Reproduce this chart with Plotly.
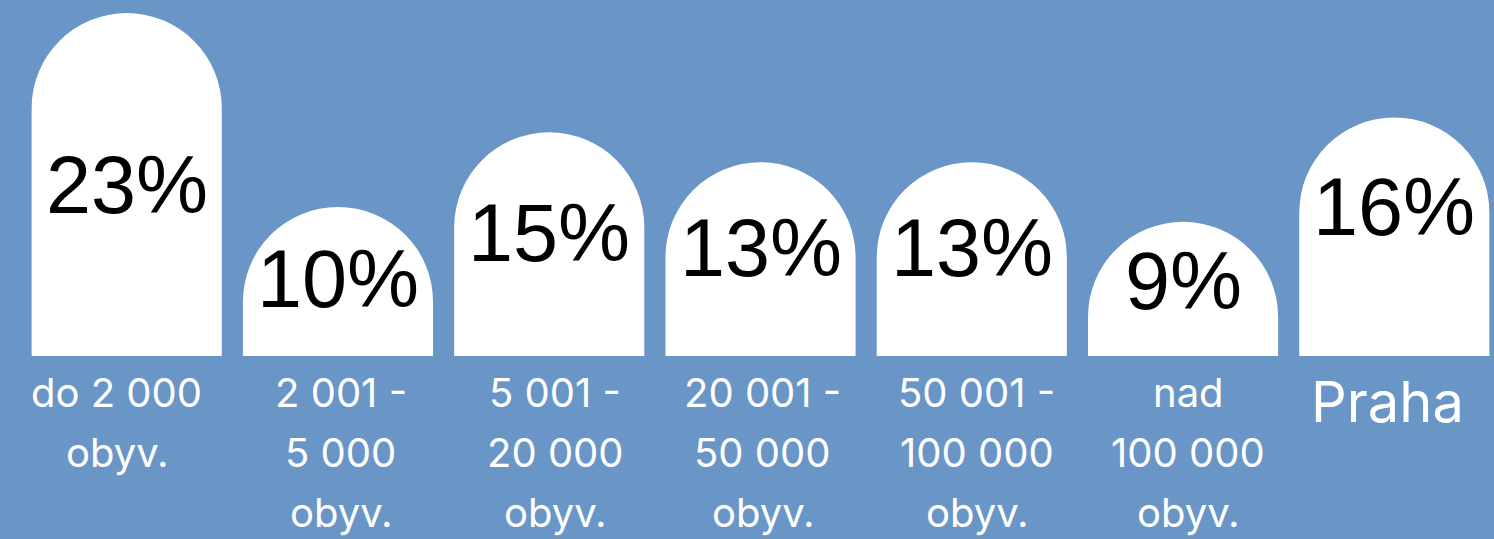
import plotly.graph_objects as go

# ---- data ----
categories = [
    "do 2 000 obyv.",
    "2 001 - 5 000 obyv.",
    "5 001 - 20 000 obyv.",
    "20 001 - 50 000 obyv.",
    "50 001 - 100 000 obyv.",
    "nad 100 000 obyv.",
    "Praha",
]
values = [23, 10, 15, 13, 13, 9, 16]
label_lines = [
    ["do 2 000", "obyv."],
    ["2 001 -", "5 000", "obyv."],
    ["5 001 -", "20 000", "obyv."],
    ["20 001 -", "50 000", "obyv."],
    ["50 001 -", "100 000", "obyv."],
    ["nad", "100 000", "obyv."],
    ["Praha"],
]

# ---- style ----
BG = "#6996C6"
W, H = 1494, 539
PLOT_BOTTOM = 356          # px from top where bars sit
PX_PER_UNIT = 14.91
pct_shift = [0, 2, 11, 11, 11, 8, 30]      # px nudges of the % labels (upwards)
label_xshift = [-10, 3, 6, 2, 5, 5, -7]    # px nudges of the category labels
label_font = "Inter, Liberation Sans, Arial, sans-serif"
pct_font = "Liberation Sans, Arial, Helvetica, sans-serif"

fig = go.Figure()
fig.add_trace(go.Bar(
    x=categories,
    y=values,
    width=0.9,
    marker=dict(color="white", line=dict(width=0), cornerradius="50%"),
    hoverinfo="skip",
))

annotations = []
for cat, v, s in zip(categories, values, pct_shift):
    annotations.append(dict(
        x=cat, y=v / 2, xref="x", yref="y",
        text=f"{v}%", showarrow=False,
        font=dict(family=pct_font, size=81, color="black"),
        xanchor="center", yanchor="middle", yshift=s,
    ))

first_center = 392 - PLOT_BOTTOM
step = 60
for cat, lines, xs in zip(categories, label_lines, label_xshift):
    if len(lines) == 1:
        annotations.append(dict(
            x=cat, y=0, xref="x", yref="paper",
            text=lines[0], showarrow=False,
            font=dict(family=label_font, size=56, color="white"),
            xanchor="center", yanchor="middle",
            yshift=-(402 - PLOT_BOTTOM), xshift=xs,
        ))
        continue
    for k, line in enumerate(lines):
        annotations.append(dict(
            x=cat, y=0, xref="x", yref="paper",
            text=line, showarrow=False,
            font=dict(family=label_font, size=40, color="white"),
            xanchor="center", yanchor="middle",
            yshift=-(first_center + k * step), xshift=xs,
        ))

x0 = 126.7
dx = 211.27
fig.update_layout(
    width=W, height=H,
    paper_bgcolor=BG, plot_bgcolor=BG,
    margin=dict(l=0, r=0, t=0, b=H - PLOT_BOTTOM, pad=0),
    showlegend=False,
    xaxis=dict(
        type="category",
        range=[-x0 / dx, (W - x0) / dx],
        showticklabels=False, showgrid=False, zeroline=False, showline=False,
        fixedrange=True,
    ),
    yaxis=dict(
        range=[0, PLOT_BOTTOM / PX_PER_UNIT],
        showticklabels=False, showgrid=False, zeroline=False, showline=False,
        fixedrange=True,
    ),
    annotations=annotations,
)

fig.write_html(
    "out.html",
    config={"displayModeBar": False},
    post_script=(
        "document.body.style.margin='0';"
        "document.body.style.padding='0';"
        f"document.body.style.background='{BG}';"
        "document.documentElement.style.overflow='hidden';"
    ),
)
